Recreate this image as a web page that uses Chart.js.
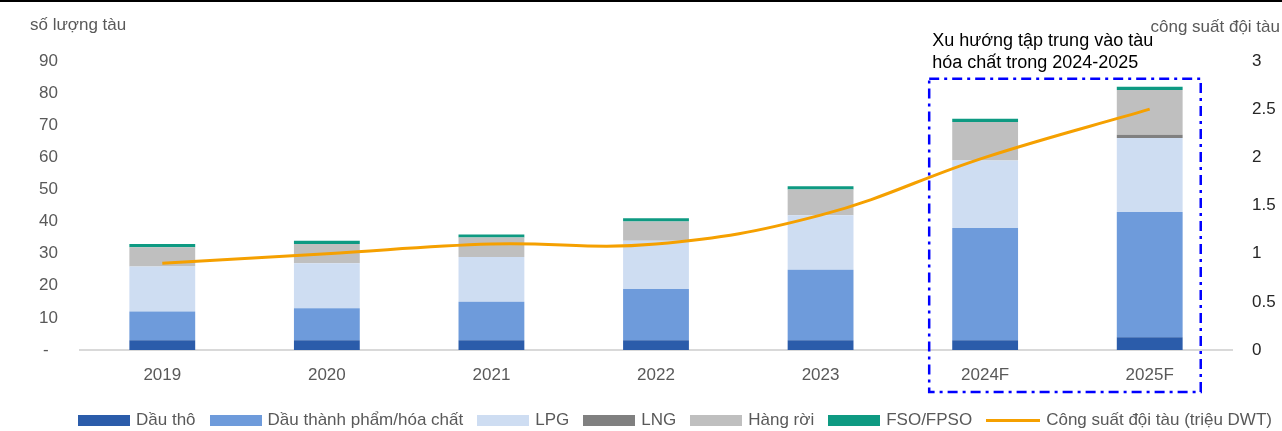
<!DOCTYPE html>
<html>
<head>
<meta charset="utf-8">
<script src="https://cdn.jsdelivr.net/npm/chart.js@4.4.1/dist/chart.umd.min.js"></script>
<style>
  html, body { margin: 0; padding: 0; background: #fff; }
  #wrap { position: relative; width: 1282px; height: 431px; overflow: hidden; }
  #legend {
    position: absolute; left: 34px; top: 408px; width: 1282px; height: 24px;
    display: flex; justify-content: center; align-items: center;
    font: 17px "Liberation Sans", Arial, sans-serif; color: #595959;
  }
  #legend .item { display: flex; align-items: center; margin: 0 7px; white-space: nowrap; }
  #legend .sw { display: inline-block; width: 52px; height: 11px; margin-right: 6px; }
  #legend .ln { display: inline-block; width: 54px; height: 3px; margin-right: 6px; }
</style>
</head>
<body>
<div id="wrap">
  <canvas id="chart" width="1282" height="431"></canvas>
  <div id="legend"></div>
</div>
<script>
const years = ['2019', '2020', '2021', '2022', '2023', '2024F', '2025F']

const dauTho = [3, 3, 3, 3, 3, 3, 4]
const dauThanhPham = [9, 10, 12, 16, 22, 35, 39]
const lpg = [14, 14, 14, 15, 17, 21, 23]
const lng = [0, 0, 0, 0, 0, 0, 1]
const hangRoi = [6, 6, 6, 6, 8, 12, 14]
const fso = [1, 1, 1, 1, 1, 1, 1]
const congSuat = [0.9, 1.0, 1.1, 1.1, 1.4, 2.0, 2.5]

const leftTicks = [0, 10, 20, 30, 40, 50, 60, 70, 80, 90]
const rightTicks = [0, 0.5, 1, 1.5, 2, 2.5, 3]

const font = '"Liberation Sans", Arial, sans-serif'
const grey = '#595959'

const bar = (label, data, color) => ({
    type: 'bar',
    label: label,
    data: data,
    backgroundColor: color,
    borderWidth: 0,
    yAxisID: 'y',
    stack: 'tau',
    order: 1,
    categoryPercentage: 0.4,
    barPercentage: 1
})

// tieu de truc, khung xu huong
const extras = {
    id: 'extras',
    afterDatasetsDraw(chart) {
        const { ctx, chartArea, scales: { x, y } } = chart
        ctx.save()

        ctx.fillStyle = '#000'
        ctx.fillRect(0, 0, chart.width, 2)

        ctx.font = '17px ' + font
        ctx.textBaseline = 'middle'
        ctx.fillStyle = grey
        ctx.textAlign = 'left'
        ctx.fillText('số lượng tàu', 30, 25)
        ctx.textAlign = 'right'
        ctx.fillText('công suất đội tàu', 1280, 27)

        const step = x.getPixelForValue(1) - x.getPixelForValue(0)
        const left = x.getPixelForValue(5) - step * 0.34
        const right = x.getPixelForValue(6) + step * 0.31
        const top = y.getPixelForValue(84.5)
        const bottom = chartArea.bottom + 42
        ctx.strokeStyle = '#0000FF'
        ctx.lineWidth = 2.5
        ctx.setLineDash([10, 5, 3, 5])
        ctx.strokeRect(left, top, right - left, bottom - top)
        ctx.setLineDash([])

        ctx.font = '18px ' + font
        ctx.fillStyle = '#000'
        ctx.textAlign = 'left'
        ctx.fillText('Xu hướng tập trung vào tàu', left + 3, 41)
        ctx.fillText('hóa chất trong 2024-2025', left + 3, 63)
        ctx.restore()
    }
}

const chart = new Chart(document.getElementById('chart'), {
    data: {
        labels: years,
        datasets: [
            bar('Dầu thô', dauTho, '#2B5CAA'),
            bar('Dầu thành phẩm/hóa chất', dauThanhPham, '#6E9BDB'),
            bar('LPG', lpg, '#CEDDF2'),
            bar('LNG', lng, '#808080'),
            bar('Hàng rời', hangRoi, '#BFBFBF'),
            bar('FSO/FPSO', fso, '#0E9A82'),
            {
                type: 'line',
                label: 'Công suất đội tàu (triệu DWT)',
                data: congSuat,
                borderColor: '#F5A000',
                backgroundColor: '#F5A000',
                borderWidth: 3,
                pointRadius: 0,
                tension: 0.4,
                yAxisID: 'y1',
                order: 0
            }
        ]
    },
    options: {
        responsive: false,
        animation: false,
        layout: { padding: { top: 61, left: 0, right: 0, bottom: 0 } },
        plugins: {
            legend: { display: false },
            tooltip: { enabled: false }
        },
        scales: {
            x: {
                stacked: true,
                grid: { display: false, drawTicks: false },
                border: { display: true, color: '#D9D9D9', width: 2 },
                ticks: { color: grey, font: { family: font, size: 17 }, padding: 15 },
                afterFit: (scale) => { scale.height = 81 }
            },
            y: {
                stacked: true,
                position: 'left',
                min: 0,
                max: 90,
                afterBuildTicks: (scale) => { scale.ticks = leftTicks.map(v => ({ value: v })) },
                grid: { display: false, drawTicks: false },
                border: { display: false },
                ticks: {
                    color: grey,
                    font: { family: font, size: 17 },
                    padding: 22,
                    callback: (v) => v === 0 ? '-  ' : String(v)
                },
                afterFit: (scale) => { scale.width = 80 }
            },
            y1: {
                position: 'right',
                min: 0,
                max: 3,
                afterBuildTicks: (scale) => { scale.ticks = rightTicks.map(v => ({ value: v })) },
                grid: { display: false, drawTicks: false },
                border: { display: false },
                ticks: {
                    color: '#262626',
                    font: { family: font, size: 17 },
                    padding: 20,
                    callback: (v) => String(v)
                },
                afterFit: (scale) => { scale.width = 50 }
            }
        }
    },
    plugins: [extras]
})

// Legend
const legendEl = document.getElementById('legend')
chart.data.datasets.forEach(ds => {
    const item = document.createElement('span')
    item.className = 'item'
    const sw = document.createElement('span')
    sw.className = ds.type === 'line' ? 'ln' : 'sw'
    sw.style.background = ds.type === 'line' ? ds.borderColor : ds.backgroundColor
    item.appendChild(sw)
    item.appendChild(document.createTextNode(ds.label))
    legendEl.appendChild(item)
})
</script>
</body>
</html>
